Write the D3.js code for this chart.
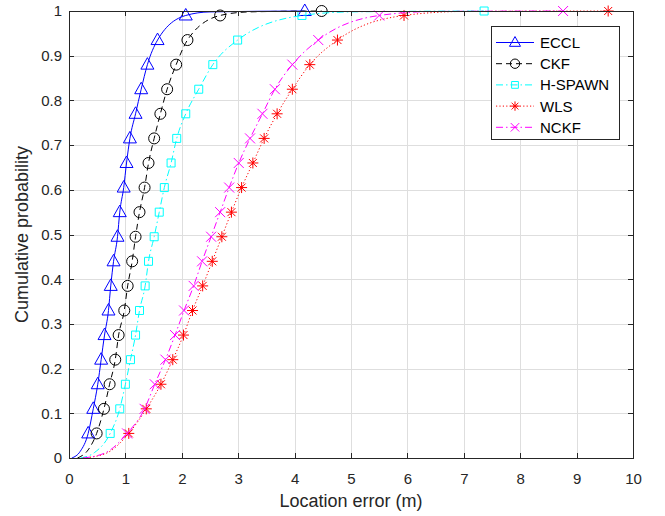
<html lang="en">
<head>
<meta charset="utf-8">
<title>CDF of location error</title>
<style>
    body { margin: 0; padding: 0; background-color: white; }
    svg { background-color: white; font-family: "Liberation Sans", Arial, sans-serif; }
    .grid line { stroke: #dedede; stroke-width: 1; shape-rendering: crispEdges; }
    .axis path, .axis line { stroke: #262626; shape-rendering: crispEdges; }
    .axis text { fill: #262626; font-size: 15px; font-family: "Liberation Sans", Arial, sans-serif; }
</style>
</head>
<body>
<div id="chart"></div>
<script src="https://d3js.org/d3.v7.min.js"></script>
<script type="text/javascript">

var xTicks = [0, 1, 2, 3, 4, 5, 6, 7, 8, 9, 10];
var yTicks = [0, 0.1, 0.2, 0.3, 0.4, 0.5, 0.6, 0.7, 0.8, 0.9, 1];

// cumulative probability where markers sit
var levels = [0.055, 0.11, 0.165, 0.22, 0.275, 0.33, 0.385, 0.44, 0.495,
              0.55, 0.605, 0.66, 0.715, 0.77, 0.825, 0.88, 0.935, 0.99];

var names = ["ECCL", "CKF", "H-SPAWN", "WLS", "NCKF"];

// location error (m) at each level
var ecclX   = [0.34, 0.43, 0.51, 0.57, 0.63, 0.70, 0.74, 0.79, 0.86, 0.90, 0.97, 1.02, 1.08, 1.18, 1.28, 1.39, 1.57, 2.07];
var ckfX    = [0.49, 0.62, 0.72, 0.82, 0.88, 0.98, 1.04, 1.12, 1.18, 1.25, 1.34, 1.41, 1.51, 1.62, 1.74, 1.90, 2.10, 2.68];
var hspawnX = [0.73, 0.90, 1.00, 1.09, 1.18, 1.25, 1.35, 1.41, 1.51, 1.60, 1.69, 1.81, 1.91, 2.07, 2.30, 2.55, 2.99, 4.13];
var wlsX    = [1.06, 1.37, 1.63, 1.84, 2.03, 2.19, 2.37, 2.54, 2.71, 2.88, 3.06, 3.26, 3.46, 3.69, 3.96, 4.27, 4.76, 5.94];
var nckfX   = [1.03, 1.34, 1.52, 1.71, 1.88, 2.04, 2.21, 2.36, 2.52, 2.68, 2.84, 3.01, 3.21, 3.43, 3.65, 3.96, 4.42, 5.50];

// largest error (cdf = 1)
var maxX = [4.18, 4.48, 7.36, 9.56, 8.76];

// start and tail of each curve (x, y)
var heads = [
    [[0.05, 0], [0.2, 0.015]],
    [[0.15, 0], [0.35, 0.02]],
    [[0.2, 0], [0.45, 0.012]],
    [[0.25, 0], [0.65, 0.01]],
    [[0.25, 0], [0.65, 0.012]]
];
var tails = [
    [[2.5, 0.998]],
    [[3.2, 0.998]],
    [[5.0, 0.998]],
    [[7.0, 0.999]],
    [[6.5, 0.999]]
];

var allX = [ecclX, ckfX, hspawnX, wlsX, nckfX];
var colors = ["#0000ff", "#000000", "#00ffff", "#ff0000", "#ff00ff"];
var dashes = [null, "6,4", "7,3,1.5,3", "1.2,2.2", "7,3,1.5,3"];
var shapes = ["triangle", "circle", "square", "star", "cross"];

var width = 665, height = 516;
var margin = {left: 69, right: 32, top: 11, bottom: 58};

var svg = d3.select("#chart").append("svg")
    .attr("width", width)
    .attr("height", height);

var x = d3.scaleLinear().domain([0, 10]).range([margin.left, width - margin.right]);
var y = d3.scaleLinear().domain([0, 1]).range([height - margin.bottom, margin.top]);

// grid
var grid = svg.append("g").attr("class", "grid");
grid.selectAll(".vx").data(xTicks).enter().append("line")
    .attr("x1", function(d){ return Math.round(x(d)) + 0.5; })
    .attr("x2", function(d){ return Math.round(x(d)) + 0.5; })
    .attr("y1", y(0)).attr("y2", y(1));
grid.selectAll(".hy").data(yTicks).enter().append("line")
    .attr("y1", function(d){ return Math.round(y(d)) + 0.5; })
    .attr("y2", function(d){ return Math.round(y(d)) + 0.5; })
    .attr("x1", x(0)).attr("x2", x(10));

// curves
var line = d3.line()
    .x(function(d){ return x(d[0]); })
    .y(function(d){ return y(d[1]); })
    .curve(d3.curveMonotoneX);

function markerPath(shape, s) {
    s = s || 1;
    var p = d3.path();
    if (shape == "triangle") {
        p.moveTo(0, -7 * s); p.lineTo(6.5 * s, 4.5 * s); p.lineTo(-6.5 * s, 4.5 * s); p.closePath();
    } else if (shape == "circle") {
        p.arc(0, 0, 5.5 * s, 0, 2 * Math.PI);
    } else if (shape == "square") {
        p.rect(-4 * s, -4 * s, 8 * s, 8 * s);
    } else if (shape == "star") {
        p.moveTo(-5.5 * s, 0); p.lineTo(5.5 * s, 0);
        p.moveTo(0, -5.5 * s); p.lineTo(0, 5.5 * s);
        p.moveTo(-4 * s, -4 * s); p.lineTo(4 * s, 4 * s);
        p.moveTo(-4 * s, 4 * s); p.lineTo(4 * s, -4 * s);
    } else {
        p.moveTo(-5 * s, -5 * s); p.lineTo(5 * s, 5 * s);
        p.moveTo(-5 * s, 5 * s); p.lineTo(5 * s, -5 * s);
    }
    return p.toString();
}

names.forEach(function(name, i) {
    var marks = allX[i].map(function(v, k){ return [v, levels[k]]; });
    marks.push([maxX[i], 1]);
    var pts = heads[i].concat(marks.slice(0, -1), tails[i], [marks[marks.length - 1]]);

    svg.append("path")
        .attr("d", line(pts))
        .attr("fill", "none")
        .attr("stroke", colors[i])
        .attr("stroke-width", 1)
        .attr("stroke-dasharray", dashes[i]);

    svg.append("g").selectAll("path").data(marks).enter().append("path")
        .attr("transform", function(d){ return "translate(" + x(d[0]) + "," + y(d[1]) + ")"; })
        .attr("d", markerPath(shapes[i]))
        .attr("fill", "none")
        .attr("stroke", colors[i])
        .attr("stroke-width", 1);
});

// axes (ticks inside, box all round)
svg.append("g").attr("class", "axis")
    .attr("transform", "translate(0," + y(0) + ")")
    .call(d3.axisBottom(x).tickValues(xTicks).tickSizeInner(-5).tickSizeOuter(0).tickPadding(15));
svg.append("g").attr("class", "axis")
    .attr("transform", "translate(0," + y(1) + ")")
    .call(d3.axisTop(x).tickValues(xTicks).tickSizeInner(-5).tickSizeOuter(0).tickFormat(""));
svg.append("g").attr("class", "axis")
    .attr("transform", "translate(" + x(0) + ",0)")
    .call(d3.axisLeft(y).tickValues(yTicks).tickSizeInner(-5).tickSizeOuter(0).tickPadding(7)
        .tickFormat(function(d){ return d3.format("")(d); }));
svg.append("g").attr("class", "axis")
    .attr("transform", "translate(" + x(10) + ",0)")
    .call(d3.axisRight(y).tickValues(yTicks).tickSizeInner(-5).tickSizeOuter(0).tickFormat(""));

// axis labels
svg.append("text")
    .attr("x", (x(0) + x(10)) / 2).attr("y", 507)
    .attr("text-anchor", "middle")
    .attr("font-size", 18).attr("fill", "#262626")
    .text("Location error (m)");
svg.append("text")
    .attr("transform", "translate(28," + (y(0) + y(1)) / 2 + ") rotate(-90)")
    .attr("text-anchor", "middle")
    .attr("font-size", 18).attr("fill", "#262626")
    .text("Cumulative probability");

// legend
var legend = svg.append("g").attr("transform", "translate(491,26)");
legend.append("rect")
    .attr("x", 0.5).attr("y", 0.5).attr("width", 128).attr("height", 113)
    .attr("fill", "white").attr("stroke", "#262626").attr("stroke-width", 1);
names.forEach(function(name, i) {
    var ly = 16.5 + i * 21.2;
    legend.append("line")
        .attr("x1", 5).attr("x2", 43).attr("y1", ly).attr("y2", ly)
        .attr("stroke", colors[i]).attr("stroke-width", 1)
        .attr("stroke-dasharray", dashes[i]);
    legend.append("path")
        .attr("transform", "translate(24," + ly + ")")
        .attr("d", markerPath(shapes[i], 0.85))
        .attr("fill", "none").attr("stroke", colors[i]);
    legend.append("text")
        .attr("x", 49).attr("y", ly + 5.5)
        .attr("font-size", 15).attr("fill", "#000")
        .text(name);
});

</script>
</body>
</html>
